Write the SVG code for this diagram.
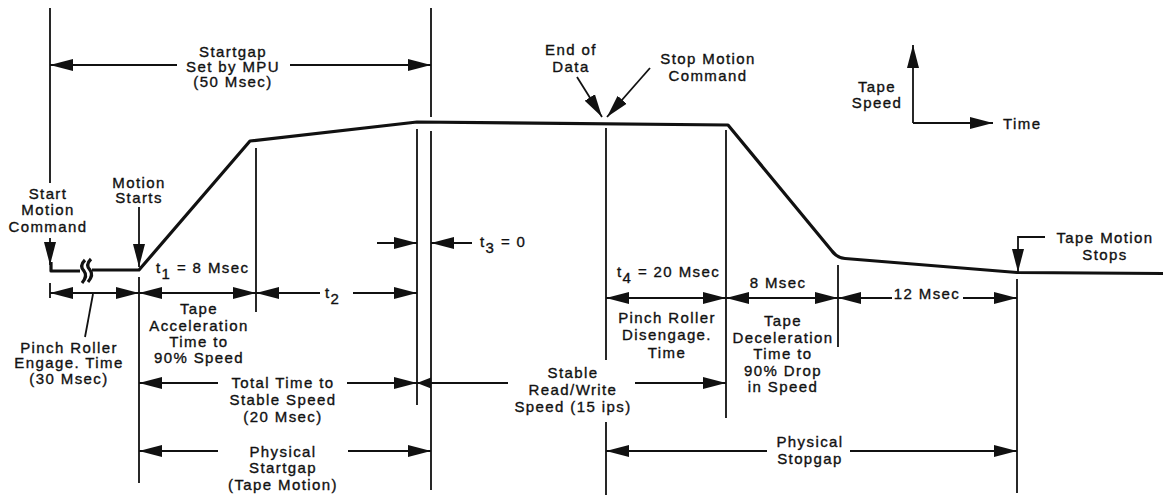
<svg xmlns="http://www.w3.org/2000/svg" width="1163" height="495" viewBox="0 0 1163 495">
<style>
text{font-family:"Liberation Sans",Arial,sans-serif;font-size:15px;letter-spacing:1.4px;fill:#111;stroke:#111;stroke-width:0.35px}
.c{text-anchor:middle}
.ext{stroke:#111;stroke-width:1.8;fill:none}
.dim{stroke:#111;stroke-width:1.8;fill:none;marker-end:url(#ah)}
.dim2{stroke:#111;stroke-width:1.8;fill:none;marker-start:url(#ah);marker-end:url(#ah)}
.dims{stroke:#111;stroke-width:1.8;fill:none;marker-start:url(#ah)}
.curve{stroke:#111;stroke-width:3.2;fill:none;stroke-linejoin:round}
</style>
<defs>
<marker id="ah" markerUnits="userSpaceOnUse" markerWidth="24" markerHeight="13" refX="23" refY="6.5" orient="auto-start-reverse">
<path d="M0,0.5 L23,6.5 L0,12.5 z" fill="#111"/>
</marker>
<marker id="ahs" markerUnits="userSpaceOnUse" markerWidth="15" markerHeight="12" refX="14" refY="6" orient="auto-start-reverse">
<path d="M0,0.5 L14,6 L0,11.5 z" fill="#111"/>
</marker>
</defs>
<rect width="1163" height="495" fill="#fff"/>

<g id="curve">
<path class="curve" d="M51,262 L51,271 L80,271"/>
<path class="curve" d="M85,260 Q79,266 84,271 Q88,276 82,283" stroke-width="2"/>
<path class="curve" d="M91,259 Q85,265 90,270 Q94,275 88,282" stroke-width="2"/>
<path class="curve" d="M92,270 L139,270 L250,141 L417,122 L728,125 L832,251 Q837,258 845,258.5 L1017,272.5 L1163,273.5"/>
</g>

<g id="connectors">
<path class="ext" d="M50,8 V183 M50,283 V298"/>
<path class="ext" d="M139,277 V483"/>
<path class="ext" d="M256,148 V312"/>
<path class="ext" d="M417,129 V405"/>
<path class="ext" d="M431,8 V117 M431,131 V490"/>
<path class="ext" d="M606,128 V360 M606,422 V495"/>
<path class="ext" d="M726,130 V418"/>
<path class="ext" d="M838,265 V347"/>
<path class="ext" d="M1017,279 V493"/>
<path class="dim" d="M50,238 V265"/>
<path class="dim" d="M139,207 V267"/>
<path class="dim" d="M577,77 L602,117"/>
<path class="dim" d="M650,68 L607,117"/>
<path class="dim" d="M1045,237 H1018 V272"/>
<path class="ext" d="M85,337 L93,294"/>
<path class="dim" d="M913,123 V45"/>
<path class="dim" d="M913,123 H993"/>
<path class="dims" d="M50,65 H177"/>
<path class="dim" d="M290,65 H431"/>
<path class="dim" d="M377,243 H417"/>
<path class="dim" d="M472,243 H431"/>
<path class="dim2" d="M50,293 H139"/>
<path class="dim2" d="M139,293 H256"/>
<path class="dims" d="M256,293 H320"/>
<path class="dim" d="M353,293 H417"/>
<path class="dims" d="M139,383 H218"/>
<path class="dim" d="M347,383 H417"/>
<path d="M417,383 H508" stroke="#111" stroke-width="1.8" fill="none" marker-start="url(#ahs)"/>
<path class="dim" d="M635,383 H726"/>
<path class="dims" d="M139,451 H218"/>
<path class="dim" d="M348,451 H431"/>
<path class="dim2" d="M606,298 H726"/>
<path class="dim2" d="M726,298 H838"/>
<path class="dims" d="M838,298 H892"/>
<path class="dim" d="M963,298 H1017"/>
<path class="dims" d="M606,451 H767"/>
<path class="dim" d="M850,451 H1017"/>
</g>

<g id="startgap-label">
<text class="c" x="233" y="57">Startgap</text>
<text class="c" x="233" y="72">Set by MPU</text>
<text class="c" x="233" y="87">(50 Msec)</text>
</g>
<g id="start-motion-command">
<text class="c" x="48" y="199">Start</text>
<text class="c" x="48" y="215">Motion</text>
<text class="c" x="48" y="232">Command</text>
</g>
<g id="motion-starts">
<text class="c" x="139" y="188">Motion</text>
<text class="c" x="139" y="203">Starts</text>
</g>
<g id="t1">
<text x="156" y="273">t<tspan dy="6">1</tspan><tspan dy="-6"> = 8 Msec</tspan></text>
</g>
<g id="pinch-engage">
<text class="c" x="69" y="353">Pinch Roller</text>
<text class="c" x="69" y="368">Engage. Time</text>
<text class="c" x="69" y="384">(30 Msec)</text>
</g>
<g id="tape-accel">
<text class="c" x="199" y="314">Tape</text>
<text class="c" x="199" y="331">Acceleration</text>
<text class="c" x="199" y="347">Time to</text>
<text class="c" x="199" y="363">90% Speed</text>
</g>
<g id="t2">
<text x="325" y="298">t<tspan dy="6">2</tspan></text>
</g>
<g id="t3">
<text x="480" y="247">t<tspan dy="6">3</tspan><tspan dy="-6"> = 0</tspan></text>
</g>
<g id="total-time">
<text class="c" x="283" y="388">Total Time to</text>
<text class="c" x="283" y="405">Stable Speed</text>
<text class="c" x="283" y="422">(20 Msec)</text>
</g>
<g id="physical-startgap">
<text class="c" x="283" y="457">Physical</text>
<text class="c" x="283" y="473">Startgap</text>
<text class="c" x="283" y="490">(Tape Motion)</text>
</g>
<g id="end-of-data">
<text class="c" x="571" y="55">End of</text>
<text class="c" x="571" y="72">Data</text>
</g>
<g id="stop-motion-command">
<text class="c" x="708" y="64">Stop Motion</text>
<text class="c" x="708" y="81">Command</text>
</g>
<g id="t4">
<text x="617" y="277">t<tspan dy="6">4</tspan><tspan dy="-6"> = 20 Msec</tspan></text>
</g>
<g id="decel-8">
<text class="c" x="778" y="288">8 Msec</text>
</g>
<g id="stop-12">
<text class="c" x="927" y="299">12 Msec</text>
</g>
<g id="pinch-disengage">
<text class="c" x="667" y="323">Pinch Roller</text>
<text class="c" x="667" y="340">Disengage.</text>
<text class="c" x="667" y="358">Time</text>
</g>
<g id="tape-decel">
<text class="c" x="783" y="326">Tape</text>
<text class="c" x="783" y="343">Deceleration</text>
<text class="c" x="783" y="359">Time to</text>
<text class="c" x="783" y="376">90% Drop</text>
<text class="c" x="783" y="392">in Speed</text>
</g>
<g id="stable-rw">
<text class="c" x="573" y="378">Stable</text>
<text class="c" x="573" y="395">Read/Write</text>
<text class="c" x="573" y="412">Speed (15 ips)</text>
</g>
<g id="physical-stopgap">
<text class="c" x="810" y="447">Physical</text>
<text class="c" x="810" y="464">Stopgap</text>
</g>
<g id="tape-motion-stops">
<text class="c" x="1105" y="243">Tape Motion</text>
<text class="c" x="1105" y="260">Stops</text>
</g>
<g id="axes-legend">
<text class="c" x="877" y="92">Tape</text>
<text class="c" x="877" y="108">Speed</text>
<text x="1003" y="129">Time</text>
</g>
</svg>
